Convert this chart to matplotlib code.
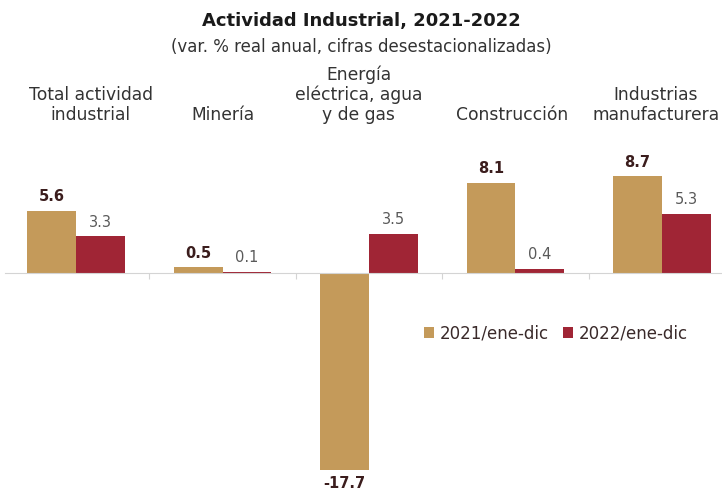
import numpy as np
import matplotlib
matplotlib.use("Agg")
import matplotlib.pyplot as plt

# Variación % real anual, cifras desestacionalizadas
categorias = ["Total actividad\nindustrial", "Minería",
              "Energía\neléctrica, agua\ny de gas", "Construcción",
              "Industrias\nmanufacturera"]
serie_2021 = [5.6, 0.5, -17.7, 8.1, 8.7]
serie_2022 = [3.3, 0.1, 3.5, 0.4, 5.3]
leyendas = ["2021/ene-dic", "2022/ene-dic"]

ORO = "#C49A5A"
GUINDA = "#A02535"
TXT_FUERTE = "#3b1d1d"
TXT_SUAVE = "#5a5a5a"

plt.rcParams["font.family"] = ["DejaVu Sans"]

fig = plt.figure(figsize=(7.22, 4.95), dpi=100)
ax = fig.add_axes([0, 0.022, 1, 0.651])

x = np.arange(len(categorias))
w = 0.334
b1 = ax.bar(x - w / 2, serie_2021, w, color=ORO, label=leyendas[0])
b2 = ax.bar(x + w / 2, serie_2022, w, color=GUINDA, label=leyendas[1])

ax.set_xlim(-0.519, 4.41)
ax.set_ylim(-19, 10)

# value labels
for xi, v in zip(x - w / 2, serie_2021):
    off = 0.6 if v >= 0 else -0.6
    ax.text(xi, v + off, f"{v:.1f}", ha="center",
            va="bottom" if v >= 0 else "top",
            fontsize=10.5, fontweight="bold", color=TXT_FUERTE)
for xi, v in zip(x + w / 2, serie_2022):
    ax.text(xi, v + 0.6, f"{v:.1f}", ha="center", va="bottom",
            fontsize=10.5, color=TXT_SUAVE)

# category names above the plot
desplaz = [0.1, 0, -0.07, -0.02, -0.04]
for xi, d, nombre in zip(x, desplaz, categorias):
    ax.text(xi + d, 13.4, nombre, ha="center", va="bottom", fontsize=12.3,
            color="#333333", linespacing=1.12, clip_on=False)

# zero baseline with small separators between groups
for s in ["top", "right", "left"]:
    ax.spines[s].set_visible(False)
ax.spines["bottom"].set_position(("data", 0))
ax.spines["bottom"].set_color("#d4d4d4")
ax.spines["bottom"].set_bounds(-0.485, 4.41)
ax.set_xticks(x[:-1] + 0.5)
ax.set_xticklabels([])
ax.tick_params(axis="x", direction="out", length=4, color="#d4d4d4")
ax.set_yticks([])

fig.text(0.5, 0.957, "Actividad Industrial, 2021-2022", ha="center",
         va="center", fontsize=13, fontweight="bold", color="#1a1a1a")
fig.text(0.5, 0.905, "(var. % real anual, cifras desestacionalizadas)",
         ha="center", va="center", fontsize=12, color="#333333")

fig.legend(handles=[b1, b2], labels=leyendas, loc="center",
           bbox_to_anchor=(0.77, 0.327), ncol=2, frameon=False,
           fontsize=12, handlelength=0.6, handleheight=0.6,
           handletextpad=0.3, columnspacing=0.9, labelcolor="#3a2a2a")

fig.savefig("out.png", dpi=100)
